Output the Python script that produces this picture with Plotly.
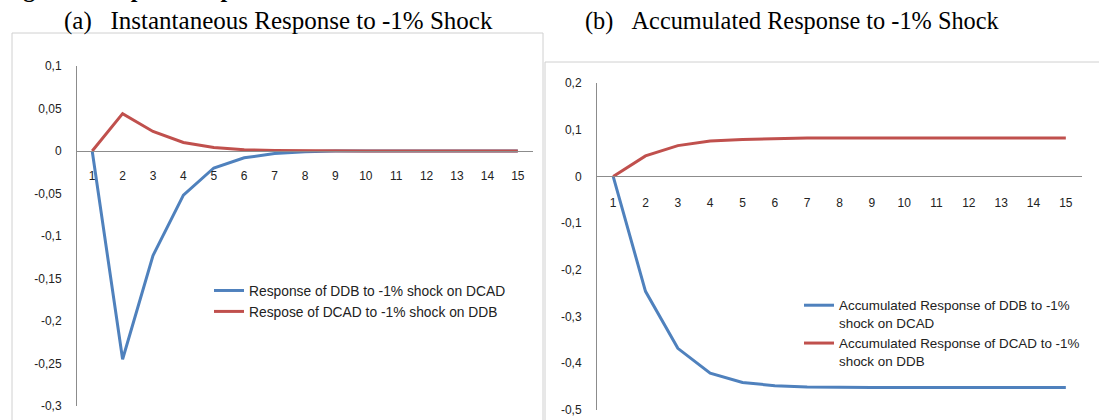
import plotly.graph_objects as go

W, H = 1099, 420

periods = list(range(1, 16))

# (a) Instantaneous responses
inst_ddb = [0, -0.245, -0.123, -0.052, -0.020, -0.008, -0.003, -0.001, 0, 0, 0, 0, 0, 0, 0]
inst_dcad = [0, 0.044, 0.023, 0.010, 0.004, 0.0015, 0.0006, 0.0002, 0, 0, 0, 0, 0, 0, 0]

# (b) Accumulated responses
acc_ddb = [0, -0.246, -0.368, -0.421, -0.441, -0.448, -0.451, -0.452, -0.452, -0.452,
           -0.452, -0.452, -0.452, -0.452, -0.452]
acc_dcad = [0, 0.044, 0.066, 0.076, 0.079, 0.081, 0.082, 0.082, 0.082, 0.082,
            0.082, 0.082, 0.082, 0.082, 0.082]

y1_ticks = [0.1, 0.05, 0, -0.05, -0.1, -0.15, -0.2, -0.25, -0.3]
y1_text = ["0,1", "0,05", "0", "-0,05", "-0,1", "-0,15", "-0,2", "-0,25", "-0,3"]
y2_ticks = [0.2, 0.1, 0, -0.1, -0.2, -0.3, -0.4, -0.5]
y2_text = ["0,2", "0,1", "0", "-0,1", "-0,2", "-0,3", "-0,4", "-0,5"]

names_a = ["Response of DDB to -1% shock on DCAD", "Respose of DCAD to -1% shock on DDB"]
names_b = ["Accumulated Response of DDB to -1%<br>shock on DCAD",
           "Accumulated Response of DCAD to -1%<br>shock on DDB"]

BLUE = "#4F81BD"
RED = "#C0504D"
AXIS = "#8C8C8C"
TXT = "#222222"
BOX = "#D0D0D0"

def px_x(p):
    return p / W

def px_y(p):
    return 1 - p / H

# domains from pixel positions
xd1 = [px_x(77), px_x(533)]
yd1 = [px_y(406), px_y(66)]
yr1 = [-0.3, 0.1]
xd2 = [px_x(597), px_x(1082)]
yd2 = [px_y(410), px_y(83)]
yr2 = [-0.5, 0.2]

def zero_pos(yd, yr):
    return yd[0] + (0 - yr[0]) / (yr[1] - yr[0]) * (yd[1] - yd[0])

fig = go.Figure()
fig.add_trace(go.Scatter(x=periods, y=inst_ddb, mode="lines", name=names_a[0],
                         line=dict(color=BLUE, width=3), xaxis="x", yaxis="y", legend="legend"))
fig.add_trace(go.Scatter(x=periods, y=inst_dcad, mode="lines", name=names_a[1],
                         line=dict(color=RED, width=3), xaxis="x", yaxis="y", legend="legend"))
fig.add_trace(go.Scatter(x=periods, y=acc_ddb, mode="lines", name=names_b[0],
                         line=dict(color=BLUE, width=3), xaxis="x2", yaxis="y2", legend="legend2"))
fig.add_trace(go.Scatter(x=periods, y=acc_dcad, mode="lines", name=names_b[1],
                         line=dict(color=RED, width=3), xaxis="x2", yaxis="y2", legend="legend2"))

tickfont = dict(family="Liberation Sans", size=12, color=TXT)

xcommon = dict(range=[0.5, 15.5], tickvals=periods, ticktext=[str(p) for p in periods],
               showgrid=False, zeroline=False, showline=True, linecolor=AXIS, linewidth=1,
               ticks="", tickfont=tickfont, anchor="free", fixedrange=True, automargin=False)
ycommon = dict(showgrid=False, zeroline=False, showline=True, linecolor=AXIS, linewidth=1,
               ticks="", tickfont=tickfont, fixedrange=True, automargin=False)

legfont_a = dict(family="Liberation Sans", size=13.8, color=TXT)
legfont_b = dict(family="Liberation Sans", size=13.4, color=TXT)

fig.update_layout(
    width=W, height=H, autosize=False,
    margin=dict(l=0, r=0, t=0, b=0, pad=0, autoexpand=False),
    paper_bgcolor="white", plot_bgcolor="rgba(0,0,0,0)",
    xaxis=dict(domain=xd1, position=zero_pos(yd1, yr1), ticklabelstandoff=14, **xcommon),
    yaxis=dict(domain=yd1, range=yr1, tickvals=y1_ticks, ticktext=y1_text,
               anchor="x", ticklabelstandoff=12, **ycommon),
    xaxis2=dict(domain=xd2, position=zero_pos(yd2, yr2), ticklabelstandoff=15, **xcommon),
    yaxis2=dict(domain=yd2, range=yr2, tickvals=y2_ticks, ticktext=y2_text,
                anchor="x2", ticklabelstandoff=12, **ycommon),
    legend=dict(x=px_x(209), y=px_y(275), xanchor="left", yanchor="top",
                bgcolor="rgba(0,0,0,0)", font=legfont_a, itemwidth=30),
    legend2=dict(x=px_x(799), y=px_y(290), xanchor="left", yanchor="top", valign="top",
                 bgcolor="rgba(0,0,0,0)", font=legfont_b, itemwidth=30),
    showlegend=True,
)

# panel frames
fig.add_shape(type="rect", xref="paper", yref="paper",
              x0=px_x(12), x1=px_x(543), y0=-0.1, y1=px_y(33),
              line=dict(color=BOX, width=1), fillcolor="rgba(0,0,0,0)", layer="below")
fig.add_shape(type="rect", xref="paper", yref="paper",
              x0=px_x(545), x1=1.1, y0=-0.1, y1=px_y(62),
              line=dict(color=BOX, width=1), fillcolor="rgba(0,0,0,0)", layer="below")

titlefont = dict(family="Liberation Serif", size=25, color="black")
fig.add_annotation(text="<b>Figure 2: Impulse responses</b>", xref="paper", yref="paper",
                   x=px_x(0), y=px_y(4), xanchor="left", yanchor="bottom", showarrow=False,
                   font=dict(family="Liberation Serif", size=24, color="black"))
fig.add_annotation(text="(a)\u00a0\u00a0\u00a0Instantaneous Response to -1% Shock",
                   xref="paper", yref="paper", x=px_x(62), y=px_y(21),
                   xanchor="left", yanchor="middle", showarrow=False, font=titlefont)
fig.add_annotation(text="(b)\u00a0\u00a0\u00a0Accumulated Response to -1% Shock",
                   xref="paper", yref="paper", x=px_x(583), y=px_y(21),
                   xanchor="left", yanchor="middle", showarrow=False,
                   font=dict(family="Liberation Serif", size=24.3, color="black"))

fig.write_html("out.html", config={"displayModeBar": False},
               post_script="document.body.style.margin='0px';")
